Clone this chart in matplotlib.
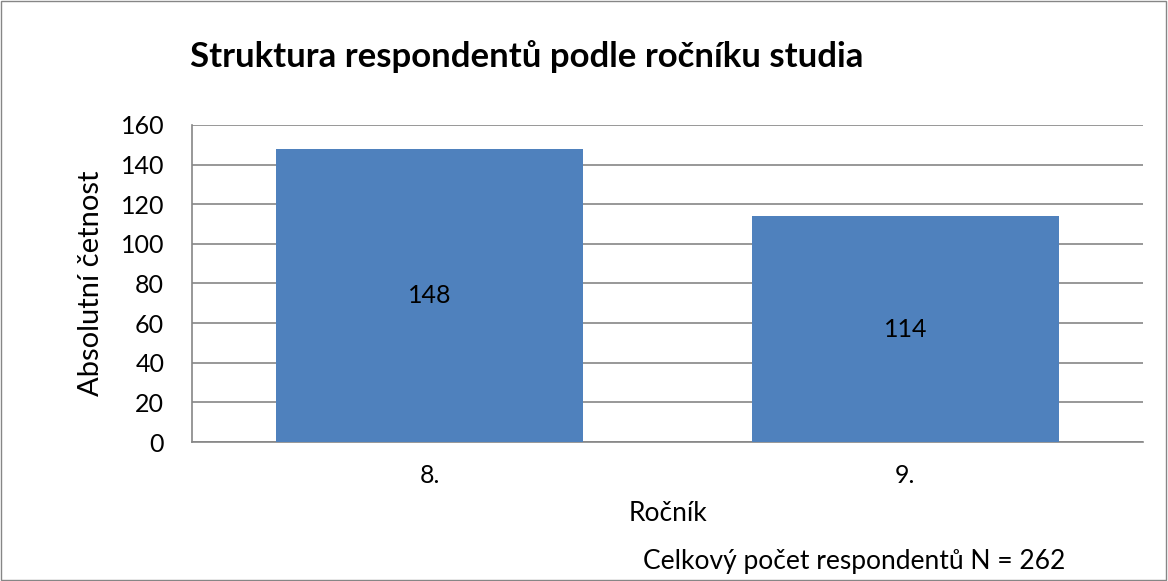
import matplotlib.pyplot as plt
from matplotlib.patches import Rectangle

categories = ["8.", "9."]
counts = [148, 114]
yticks = [0, 20, 40, 60, 80, 100, 120, 140, 160]

plt.rcParams['font.family'] = ['Lato', 'DejaVu Sans']

fig = plt.figure(figsize=(11.68, 5.81), dpi=100)
ax = fig.add_axes([0.1644, 0.2392, 0.8142, 0.5457])

grid_col = "#868686"
x = range(len(categories))
bars = ax.bar(x, counts, width=0.645, color="#4F81BD", zorder=3)
for b, v in zip(bars, counts):
    ax.text(b.get_x() + b.get_width() / 2, v / 2, str(v), ha="center", va="center",
            fontsize=18, color="black", zorder=4)

ax.set_xlim(-0.5, len(categories) - 0.5)
ax.set_ylim(0, 160)
ax.set_yticks(yticks)
ax.set_xticks(list(x))
ax.set_xticklabels(categories)
ax.tick_params(axis="both", labelsize=18, colors=grid_col, labelcolor="black")
ax.tick_params(axis="x", length=0, pad=16)
ax.tick_params(axis="y", length=0, pad=20)

ax.yaxis.grid(True, color=grid_col, linewidth=1.2, zorder=0)
for s in ["top", "right"]:
    ax.spines[s].set_visible(False)
for s in ["left", "bottom"]:
    ax.spines[s].set_color(grid_col)
    ax.spines[s].set_linewidth(1.2)

ax.set_ylabel("Absolutní četnost", fontsize=21, labelpad=12)
ax.set_xlabel("Ročník", fontsize=19, labelpad=10)

fig.text(190 / 1168, 1 - 57 / 581, "Struktura respondentů podle ročníku studia",
         fontsize=25, fontweight="bold", ha="left", va="center")
fig.text(1065 / 1168, 1 - 562 / 581, "Celkový počet respondentů N = 262",
         fontsize=19, ha="right", va="center")

fig.patches.append(Rectangle((0.001, 0.002), 0.997, 0.996, transform=fig.transFigure,
                             fill=False, edgecolor=grid_col, linewidth=1))

fig.savefig("out.png", dpi=100)
